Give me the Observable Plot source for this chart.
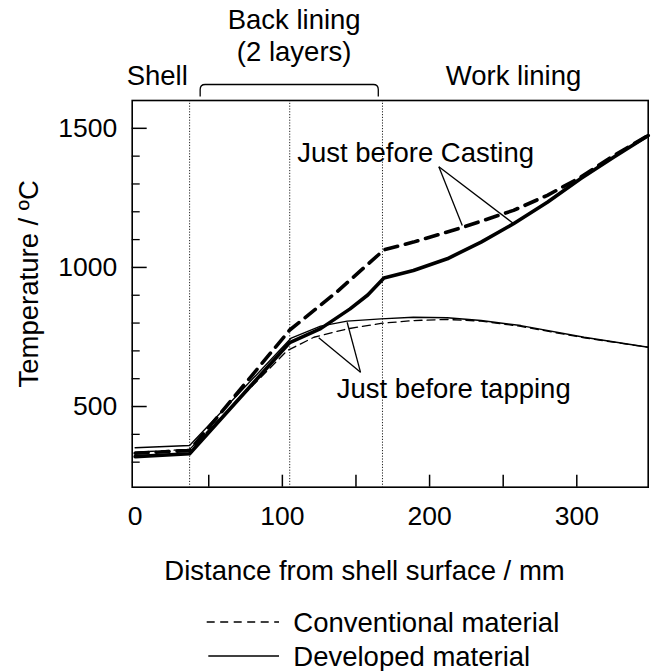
<!DOCTYPE html>
<html><head><meta charset="utf-8">
<script src="https://cdn.jsdelivr.net/npm/d3@7"></script>
<script src="https://cdn.jsdelivr.net/npm/@observablehq/plot@0.6"></script>
<style>
body{margin:0;background:#fff;font-family:"Liberation Sans",Arial,sans-serif}
#chart svg{display:block}
</style>
</head><body><div id="chart"></div><script>
// ---- data ----
const layerBounds = [37, 105, 168];            // mm: shell | back lining 1 | back lining 2 | work lining
const braceRange = [44.5, 165.5];               // mm span of "Back lining" brace
const xTickLabels = [0, 100, 200, 300];
const xTicksAll = [50, 100, 150, 200, 250, 300];
const yTickLabels = [500, 1000, 1500];
const yMinor = [300, 400, 600, 700, 800, 900, 1100, 1200, 1300, 1400];

// Just before casting, developed material (thick solid)
const devCastX = [0, 37, 105, 126, 146, 158, 169, 189, 212, 235, 257, 280, 302.5, 325, 348.5];
const devCastT = [320, 330, 730, 780, 851, 901, 962, 989, 1031, 1091, 1157, 1234, 1319, 1396, 1474];
// Just before casting, conventional material (thick dashed)
const convCastX = [0, 37, 105, 137, 169, 189, 223, 257, 280, 302.5, 325, 348.5];
const convCastT = [332, 342, 775, 912, 1063, 1091, 1145, 1205, 1259, 1324, 1402, 1474];
// Just before tapping, developed material (thin solid)
const devTapX = [0, 37, 106, 126, 144, 167, 189, 212, 235, 262, 305, 348.5];
const devTapT = [352, 360, 746, 789, 807, 815, 821, 819, 809, 791, 749, 713];
// Just before tapping, conventional material (thin dashed)
const convTapX = [0, 37, 103.3, 121.4, 144, 167, 189, 212, 235, 262, 305, 348.5];
const convTapT = [336, 346, 701, 749, 779, 799, 809, 813, 807, 788, 747, 713];

const regionRow1 = [{x: 108, text: "Back lining"}];
const regionRow2 = [{x: 108, text: "(2 layers)"}];
const regionRow3 = [{x: 15, text: "Shell"}, {x: 257, text: "Work lining"}];

const annotations = [
  {x: 190.5, y: 1411, text: "Just before Casting"},
  {x: 216.4, y: 561, text: "Just before tapping"}
];
const pointers = [
  {x1: 206.3, y1: 1362, x2: 222.2, y2: 1151},
  {x1: 206.3, y1: 1362, x2: 257.2, y2: 1157},
  {x1: 153.1, y1: 623, x2: 124.7, y2: 747},
  {x1: 153.1, y1: 623, x2: 144.0, y2: 803}
];
const legendItems = [
  {label: "Conventional material", dash: "8,5.5"},
  {label: "Developed material", dash: null}
];

const toRows = (xs, ts) => xs.map((x, i) => ({x, t: ts[i]}));

// ---- layout ----
const W = 651, H = 600;
const mL = 131.7, mR = 3.3, mT = 100, mB = H - 486.7;
const frameW = W - mL - mR, frameH = H - mT - mB;
const FONT = "Liberation Sans, Arial, sans-serif";
const FS = 27.5, TFS = 26.5;

function braceMark(index, scales, values, dimensions) {
  const sx = scales.x || d3.scaleLinear([-2, 348.5], [mL, W - mR]);
  const x1 = sx(braceRange[0]), x2 = sx(braceRange[1]);
  const yTop = dimensions.marginTop - 15.5, yEnd = dimensions.marginTop - 3.5, r = 5;
  const d = `M${x1},${yEnd}L${x1},${yTop + r}Q${x1},${yTop} ${x1 + r},${yTop}L${x2 - r},${yTop}Q${x2},${yTop} ${x2},${yTop + r}L${x2},${yEnd}`;
  return d3.create("svg:path").attr("d", d).attr("fill", "none")
    .attr("stroke", "black").attr("stroke-width", 1.3).node();
}

const txt = {fill: "black", textAnchor: "middle", lineAnchor: "middle"};

const plot = Plot.plot({
  width: W, height: H,
  marginLeft: mL, marginRight: mR, marginTop: mT, marginBottom: mB,
  style: {fontFamily: FONT, fontSize: FS + "px", color: "black", background: "white", overflow: "visible"},
  x: {domain: [-2, 348.5], axis: null},
  y: {domain: [210, 1600], axis: null},
  marks: [
    Plot.ruleX(layerBounds, {x: d => d, stroke: "#222", strokeWidth: 1, strokeDasharray: "1.2,1.6"}),
    Plot.ruleX(xTicksAll, {x: d => d, insetTop: frameH - 12, stroke: "black", strokeWidth: 1.5}),
    Plot.ruleY(yTickLabels, {y: d => d, insetRight: frameW - 15, stroke: "black", strokeWidth: 1.5}),
    Plot.ruleY(yMinor, {y: d => d, insetRight: frameW - 8, stroke: "black", strokeWidth: 1.3}),
    Plot.line(toRows(devTapX, devTapT), {x: "x", y: "t", stroke: "black", strokeWidth: 1.4}),
    Plot.line(toRows(convTapX, convTapT), {x: "x", y: "t", stroke: "black", strokeWidth: 1.3, strokeDasharray: "8,5"}),
    Plot.line(toRows(devCastX, devCastT), {x: "x", y: "t", stroke: "black", strokeWidth: 3.6}),
    Plot.line(toRows(convCastX, convCastT), {x: "x", y: "t", stroke: "black", strokeWidth: 3.6, strokeDasharray: "13,8"}),
    Plot.link(pointers, {x1: "x1", y1: "y1", x2: "x2", y2: "y2", stroke: "black", strokeWidth: 1.3}),
    Plot.text(annotations, {...txt, x: "x", y: "y", text: "text", fontSize: FS}),
    Plot.frame({stroke: "black", strokeWidth: 1.6}),
    Plot.text(xTickLabels, {...txt, x: d => d, frameAnchor: "bottom", dy: 29.5, text: d => String(d), fontSize: TFS}),
    Plot.text(yTickLabels, {...txt, y: d => d, frameAnchor: "left", dx: -15, textAnchor: "end", text: d => String(d), fontSize: TFS}),
    Plot.text(["Distance from shell surface / mm"], {...txt, frameAnchor: "bottom", dx: -25.7, dy: 84.3, text: d => d, fontSize: FS}),
    Plot.text(["Temperature / ºC"], {...txt, frameAnchor: "left", rotate: -90, dx: -103.4, dy: -10, text: d => d, fontSize: FS}),
    Plot.text(regionRow1, {...txt, x: "x", frameAnchor: "top", dy: -80, text: "text", fontSize: FS}),
    Plot.text(regionRow2, {...txt, x: "x", frameAnchor: "top", dy: -48, text: "text", fontSize: FS}),
    Plot.text(regionRow3, {...txt, x: "x", frameAnchor: "top", dy: -24.3, text: "text", fontSize: FS}),
    braceMark
  ]
});
document.getElementById("chart").appendChild(plot);

// ---- legend below the plot ----
const LH = 71;
const leg = d3.create("svg").attr("width", W).attr("height", LH)
  .style("display", "block").style("font-family", FONT);
const rowsY = [22, 56];
legendItems.forEach((it, i) => {
  const g = leg.append("g").attr("transform", `translate(0,${rowsY[i]})`);
  g.append("line").attr("x1", it.dash ? 206.7 : 208.3).attr("x2", 279)
    .attr("y1", 0).attr("y2", 0).attr("stroke", "black").attr("stroke-width", 1.3)
    .attr("stroke-dasharray", it.dash);
  g.append("text").attr("x", 293.3).attr("y", 0).attr("dy", "0.35em")
    .attr("font-size", FS).attr("fill", "black").text(it.label);
});
document.getElementById("chart").appendChild(leg.node());
</script></body></html>
